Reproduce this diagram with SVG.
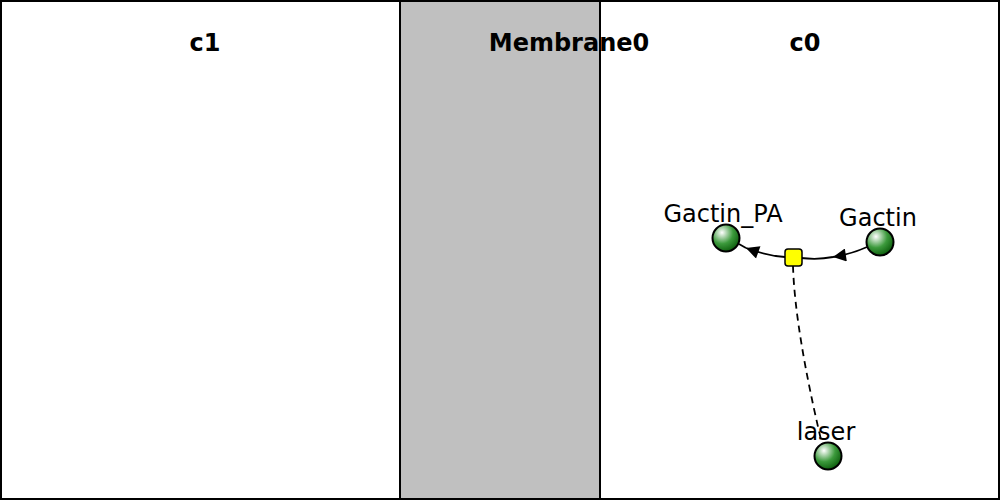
<svg xmlns="http://www.w3.org/2000/svg" width="1000" height="500" viewBox="0 0 1000 500">
<defs>
<radialGradient id="g" cx="0.35" cy="0.3" r="0.75" fx="0.35" fy="0.3">
<stop offset="0" stop-color="#ffffff"/>
<stop offset="0.55" stop-color="#3c9a3c"/>
<stop offset="1" stop-color="#0a5a0a"/>
</radialGradient>
<marker id="arr" viewBox="0 0 10 10" refX="10" refY="5" markerWidth="16" markerHeight="13" markerUnits="userSpaceOnUse" orient="auto">
<path d="M0,0 L10,5 L0,10 z" fill="#000"/>
</marker>
</defs>
<style>
.comp{stroke:#000;stroke-width:2}
.clabel{font-family:"DejaVu Sans",sans-serif;font-weight:bold;font-size:24px;text-anchor:middle}
.nlabel{font-family:"DejaVu Sans",sans-serif;font-size:24px;text-anchor:middle}
.sp{fill:url(#g);stroke:#000;stroke-width:2}
.e{fill:none;stroke:#000;stroke-width:1.8}
</style>
<g id="c1"><rect class="comp" x="1" y="1" width="399" height="498" fill="#fff"/><text class="clabel" x="205" y="51">c1</text></g>
<g id="Membrane0"><rect class="comp" x="400" y="1" width="200" height="498" fill="#c0c0c0"/></g>
<g id="c0"><rect class="comp" x="600" y="1" width="399" height="498" fill="#fff"/><text class="clabel" x="805" y="51">c0</text></g>
<text class="clabel" x="569" y="51">Membrane0</text>
<g id="edges">
<path class="e" d="M867,247 Q852,254 833,257" marker-end="url(#arr)"/>
<path class="e" d="M833,257 Q818,260 801,258"/>
<path class="e" d="M785,257 Q768,256 746,248" marker-end="url(#arr)"/>
<path class="e" d="M746,248 L739,244"/>
<path class="e" stroke-dasharray="7,5" d="M793,266 Q795,330 822,444"/>
</g>
<g id="reaction"><rect x="785" y="249" width="17" height="17" rx="3" fill="#ffff00" stroke="#000" stroke-width="1.5"/></g>
<g id="Gactin_PA"><circle class="sp" cx="726" cy="238" r="13.5"/><text class="nlabel" x="723" y="222">Gactin_PA</text></g>
<g id="Gactin"><circle class="sp" cx="880" cy="242" r="13.5"/><text class="nlabel" x="878" y="226">Gactin</text></g>
<g id="laser"><circle class="sp" cx="828" cy="456" r="13.5"/><text class="nlabel" x="826" y="440">laser</text></g>
</svg>
